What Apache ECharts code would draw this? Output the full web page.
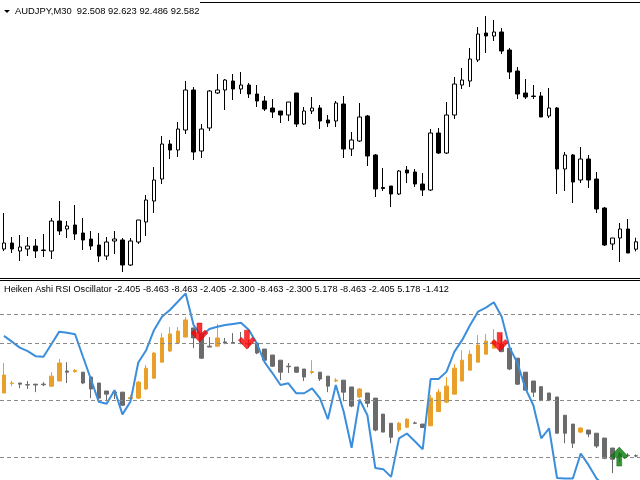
<!DOCTYPE html>
<html>
<head>
<meta charset="utf-8">
<script src="https://cdn.jsdelivr.net/npm/echarts@6/dist/echarts.min.js"></script>
<style>html,body{margin:0;padding:0;background:#fff}#c{width:640px;height:480px}</style>
</head>
<body>
<div id="c"></div>
<script>
// ---- AUDJPY M30 price bars ----
const priceOpen = [92.51,92.57,92.49,92.51,92.54,92.50,92.49,92.79,92.71,92.75,
92.67,92.61,92.55,92.44,92.59,92.60,92.35,92.58,92.78,92.99,
93.21,93.56,93.50,93.70,94.10,93.49,93.72,94.07,94.10,94.19,
94.11,94.15,94.06,93.99,93.92,93.89,93.85,94.07,93.76,93.89,
93.92,93.80,93.79,93.96,93.51,93.59,93.84,93.45,93.125,93.14,
93.06,93.30,93.28,93.16,93.10,93.67,93.47,93.85,94.15,94.19,
94.40,94.67,94.64,94.68,94.50,94.29,94.07,94.04,94.04,93.84,
93.92,93.31,93.45,93.20,93.41,93.21,92.92,92.56,92.62,92.71,92.508];
const priceClose = [92.57,92.51,92.53,92.54,92.49,92.495,92.79,92.69,92.74,92.66,
92.60,92.54,92.44,92.58,92.61,92.35,92.59,92.80,93.00,93.20,
93.56,93.50,93.71,94.10,93.48,93.71,94.09,94.10,94.20,94.11,
94.15,94.06,93.99,93.91,93.88,93.85,93.98,93.76,93.89,93.92,
93.79,93.77,93.97,93.51,93.60,93.83,93.44,93.11,93.115,93.06,
93.29,93.27,93.16,93.10,93.67,93.47,93.85,94.16,94.20,94.41,
94.66,94.64,94.68,94.49,94.28,94.06,94.03,94.035,93.83,93.92,
93.31,93.45,93.18,93.41,93.20,92.91,92.55,92.62,92.71,92.47,92.582];
const priceLow = [92.49,92.47,92.39,92.44,92.42,92.43,92.41,92.65,92.62,92.60,
92.50,92.50,92.38,92.40,92.46,92.28,92.34,92.56,92.64,92.87,
93.16,93.41,93.43,93.66,93.40,93.42,93.69,94.06,93.90,94.00,
94.06,94.02,93.93,93.89,93.82,93.77,93.79,93.73,93.75,93.86,
93.71,93.73,93.73,93.42,93.44,93.58,93.34,93.03,93.09,92.93,
93.05,93.17,93.13,93.04,93.09,93.46,93.46,93.81,94.11,94.13,
94.38,94.47,94.59,94.46,94.21,94.01,94.01,94.01,93.83,93.82,
93.06,93.09,92.97,93.17,93.12,92.87,92.54,92.50,92.38,92.47,92.486];
const priceHigh = [92.87,92.63,92.65,92.63,92.61,92.66,92.82,92.99,92.79,92.95,
92.82,92.69,92.67,92.63,92.69,92.62,92.62,92.80,93.05,93.33,
93.64,93.60,93.78,94.19,94.13,93.76,94.10,94.26,94.21,94.26,
94.28,94.17,94.15,94.04,94.01,93.89,93.98,94.07,93.93,94.03,
93.95,93.85,93.99,94.04,93.68,93.97,93.85,93.46,93.32,93.14,
93.30,93.34,93.31,93.27,93.71,93.72,93.98,94.23,94.32,94.52,
94.73,94.84,94.80,94.72,94.52,94.33,94.21,94.15,94.08,94.12,
93.93,93.48,93.46,93.53,93.45,93.28,92.93,92.62,92.77,92.81,92.623];

// ---- Heiken Ashi RSI oscillator ----
const haOpen = [2.5,5.8,6.0,5.4,5.6,5.6,4.9,6.7,10.2,10.0,
9.8,8.1,6.0,3.2,2.8,2.8,0.5,0.7,3.9,7.7,
13.3,17.2,20.0,22.1,25.3,23.2,18.9,18.9,20.4,20.2,
20.0,20.0,20.0,17.9,15.8,14.0,11.9,11.6,10.9,9.7,
9.8,8.4,6.7,7.0,4.6,1.1,2.5,0.7,-4.9,-8.1,
-10.5,-9.5,-8.0,-8.4,-9.0,-4.0,-0.7,2.1,6.7,10.5,
13.3,16.1,18.2,19.5,18.2,14.7,9.8,6.7,4.7,2.5,
1.1,-5.3,-8.4,-11.2,-10.5,-11.6,-13.3,-16.8,-18.8,-19.3,-19.5];
const haClose = [8.8,6.0,5.6,5.3,5.3,5.4,8.4,13.0,9.8,10.4,
6.0,3.9,0.7,2.1,2.5,-1.8,0.9,6.3,11.2,16.5,
21.8,23.2,24.2,28.1,21.8,14.7,18.6,21.8,20.0,20.0,
19.8,19.6,16.5,14.0,11.9,9.8,11.7,9.8,8.1,10.0,
7.4,4.9,7.0,2.8,-2.1,3.9,-1.1,-10.5,-11.2,-13.0,
-8.1,-6.7,-8.1,-9.6,0.7,2.8,4.9,11.2,14.0,16.1,
19.3,20.7,20.7,17.0,10.9,5.6,3.5,2.8,0.0,0.0,
-11.6,-11.6,-15.1,-9.8,-11.9,-16.1,-20.4,-20.7,-19.8,-19.5,-19.6];
const haLow = [2.5,4.9,4.2,3.9,2.8,4.9,4.6,6.7,6.0,9.6,
5.6,0.7,-0.4,-0.4,0.4,-2.1,-0.4,0.4,3.5,7.4,
13.3,16.8,19.6,22.1,18.2,14.4,18.6,18.6,19.6,19.8,
19.6,18.2,16.1,13.7,11.6,7.0,9.5,9.5,6.7,9.1,
6.7,2.8,6.3,-0.4,-2.5,0.7,-2.5,-10.9,-11.2,-15.1,
-11.2,-9.8,-8.4,-9.8,-9.1,-4.2,-1.1,2.1,6.7,10.5,
13.3,16.1,18.2,16.8,10.5,5.3,3.5,1.1,-0.4,-0.4,
-11.6,-15.1,-16.8,-11.6,-13.0,-16.8,-20.7,-25.6,-21.8,-20.0,-20.0];
const haHigh = [13.0,6.7,6.0,6.7,5.6,6.3,9.8,14.4,13.3,10.9,
9.8,8.1,6.0,3.2,3.5,2.8,1.8,6.7,12.3,16.8,
23.5,25.6,25.6,29.1,25.3,23.2,22.1,26.7,21.8,23.5,
23.9,21.1,20.4,17.9,15.8,14.0,13.0,11.6,10.9,14.0,
9.8,8.4,7.7,7.0,4.6,4.2,2.5,0.7,-4.9,-8.1,
-7.7,-6.3,-7.5,-8.4,1.8,3.9,8.1,12.6,17.5,17.5,
22.8,23.2,24.9,22.8,18.2,14.7,9.8,6.7,4.7,2.5,
1.1,-5.3,-8.4,-9.5,-10.5,-11.6,-13.3,-16.8,-18.2,-18.6,-19.0];
const rsiLine = [22.5,20.5,18.4,17.2,15.4,15.2,19.6,24.0,23.6,23.1,
15.2,7.4,-0.6,-1.3,3.5,-5.0,-0.6,13.2,17.5,24.6,
29.2,31.6,34.5,37.4,26.3,22.5,24.9,25.7,26.3,26.7,
27.1,24.6,19.9,13.2,9.4,5.3,5.9,2.4,2.4,4.1,
0.6,-6.7,5.3,-4.1,-16.7,0.2,-5.3,-23.8,-24.2,-26.9,
-13.4,-11.7,-14.4,-17.2,7.4,7.4,9.9,16.9,21.1,26.3,
31.0,32.4,34.3,29.2,18.4,12.9,4.1,-1.8,-13.4,-9.9,
-27.3,-27.5,-27.5,-18.7,-22.8,-27.5,-30,-32,-33,-33,-34];
const levels = [30, 20, 0, -20];
const sellSignals = [[25, 23.7], [31, 21.2], [63, 20.4]];
const buySignals = [[78, -19.8]];

const categories = priceOpen.map((_, i) => String(i));
const priceBars = priceOpen.map((o, i) => [o, priceClose[i], priceLow[i], priceHigh[i]]);
const haBars = haOpen.map((o, i) => [o, haClose[i], haLow[i], haHigh[i]]);

const downArrow = 'path://M6,0 L11,0 L11,10 L14,7 L17,10 L8.5,19 L0,10 L3,7 L6,10 Z';
const upArrow = 'path://M6,19 L11,19 L11,9 L14,12 L17,9 L8.5,0 L0,9 L3,12 L6,9 Z';

const chart = echarts.init(document.getElementById('c'), null, {renderer: 'canvas'});
const font = '"Liberation Sans", Arial, sans-serif';
chart.setOption({
  animation: false,
  backgroundColor: '#ffffff',
  grid: [
    {left: -4, right: -4, top: 0, height: 278},
    {left: -4, right: -4, top: 286, height: 194}
  ],
  xAxis: [
    {type: 'category', gridIndex: 0, data: categories, show: false},
    {type: 'category', gridIndex: 1, data: categories, show: false}
  ],
  yAxis: [
    {type: 'value', gridIndex: 0, min: 92.22, max: 95.0, show: false},
    {type: 'value', gridIndex: 1, min: -28, max: 40, show: false}
  ],
  series: [
    {
      type: 'candlestick', xAxisIndex: 0, yAxisIndex: 0, data: priceBars,
      barWidth: 4,
      itemStyle: {color: '#ffffff', color0: '#000000', borderColor: '#000000', borderColor0: '#000000', borderColorDoji: '#000000', borderWidth: 1}
    },
    {
      type: 'candlestick', xAxisIndex: 1, yAxisIndex: 1, data: haBars,
      barWidth: 4, z: 3,
      itemStyle: {color: '#e9a02a', color0: '#6b6b6b', borderColor: '#e9a02a', borderColor0: '#6b6b6b', borderColorDoji: '#6b6b6b', borderWidth: 1},
      markLine: {
        silent: true, symbol: ['none', 'none'], label: {show: false},
        lineStyle: {color: '#8a8a8a', type: [4, 3], width: 1},
        data: levels.map(v => ({yAxis: v}))
      }
    },
    {
      type: 'line', xAxisIndex: 1, yAxisIndex: 1, data: rsiLine, z: 4,
      symbol: 'none', lineStyle: {color: '#3a8edc', width: 2}
    },
    {
      type: 'scatter', xAxisIndex: 1, yAxisIndex: 1, data: sellSignals, z: 5,
      symbol: downArrow, symbolSize: [17, 19], symbolOffset: [-2, 0],
      itemStyle: {color: '#ff0000', borderColor: '#c00000', borderWidth: 0.5}
    },
    {
      type: 'scatter', xAxisIndex: 1, yAxisIndex: 1, data: buySignals, z: 5,
      symbol: upArrow, symbolSize: [17, 19], symbolOffset: [-1, 0],
      itemStyle: {color: '#087a08', borderColor: '#055a05', borderWidth: 0.5}
    }
  ],
  graphic: [
    {type: 'polygon', shape: {points: [[4, 10], [10, 10], [7, 13]]}, style: {fill: '#000'}},
    {type: 'text', x: 15, y: 11, style: {text: 'AUDJPY,M30  92.508 92.623 92.486 92.582', font: '9.4px ' + font, fill: '#000', verticalAlign: 'middle'}},
    {type: 'text', x: 4, y: 289.5, style: {text: 'Heiken Ashi RSI Oscillator -2.405 -8.463 -8.463 -2.405 -2.300 -8.463 -2.300 5.178 -8.463 -2.405 5.178 -1.412', font: '9.2px ' + font, fill: '#000', verticalAlign: 'middle'}},
    {type: 'line', shape: {x1: 200, y1: 2.5, x2: 640, y2: 2.5}, style: {stroke: '#000', lineWidth: 1}},
    {type: 'line', shape: {x1: 0, y1: 278.5, x2: 640, y2: 278.5}, style: {stroke: '#000', lineWidth: 1}},
    {type: 'line', shape: {x1: 0, y1: 280.5, x2: 640, y2: 280.5}, style: {stroke: '#000', lineWidth: 1}}
  ]
});
</script>
</body>
</html>
